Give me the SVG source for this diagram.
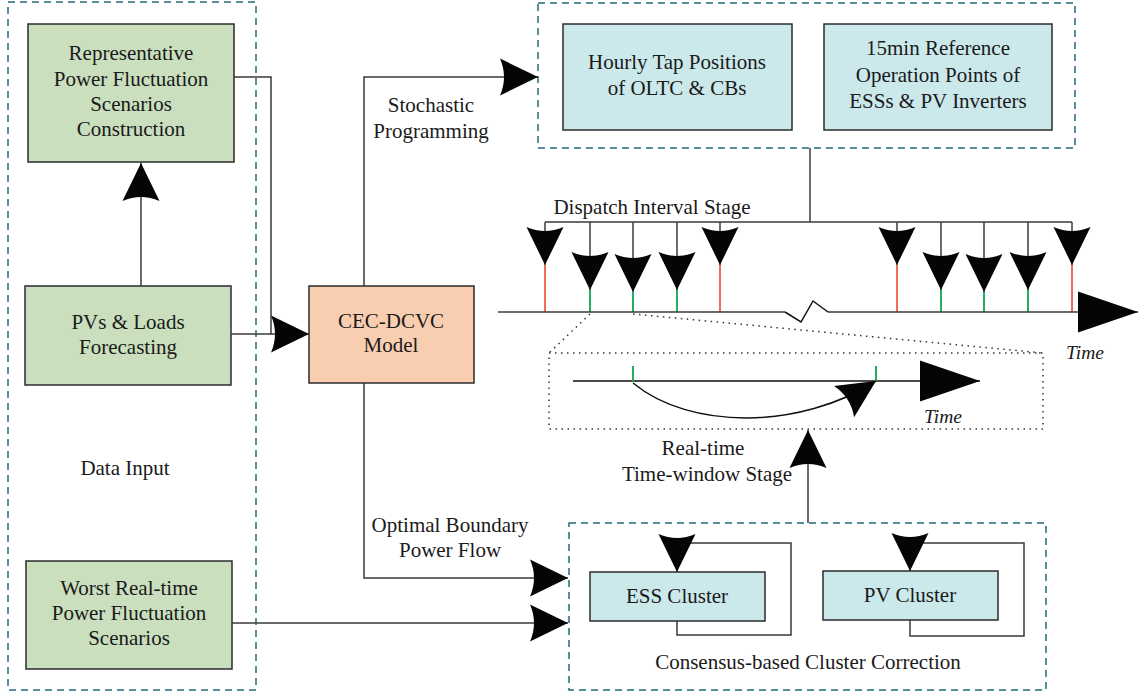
<svg xmlns="http://www.w3.org/2000/svg" width="1138" height="695" viewBox="0 0 1138 695">
  <style>
    .t { font-family: "Liberation Serif", "Times New Roman", serif; font-size: 21px; fill: #1a1a1a; text-anchor: middle; }
    .ti { font-family: "Liberation Serif", "Times New Roman", serif; font-size: 19.5px; font-style: italic; fill: #1a1a1a; text-anchor: middle; }
    .green { fill: #c9dfbd; stroke: #2b2b2b; stroke-width: 1.5; }
    .blue { fill: #cbe8eb; stroke: #2b2b2b; stroke-width: 1.5; }
    .peach { fill: #f9cdb0; stroke: #2b2b2b; stroke-width: 1.5; }
    .frame { fill: none; stroke: #1f6b75; stroke-width: 1.5; stroke-dasharray: 7 5; }
    .ln { fill: none; stroke: #3a3a3a; stroke-width: 1.5; }
    .arr { marker-end: url(#head); }
    .red { stroke: #ef6e55; stroke-width: 2; }
    .grn { stroke: #22b060; stroke-width: 2; }
    .dot { fill: none; stroke: #333; stroke-width: 1.5; stroke-dasharray: 1.5 4.5; }
  </style>
  <defs>
    <marker id="head" viewBox="-40 -20 40 40" markerWidth="40" markerHeight="40" refX="0" refY="0" orient="auto" markerUnits="userSpaceOnUse">
      <path d="M0,0 L-38,-18.5 Q-30,0 -38,18.5 Z" fill="#050505"/>
    </marker>
    <marker id="bigHead" viewBox="-64 -22 64 44" markerWidth="64" markerHeight="44" refX="0" refY="0" orient="auto" markerUnits="userSpaceOnUse">
      <path d="M0,0 L-60,-20.5 L-60,20.5 Z" fill="#050505"/>
    </marker>
  </defs>

  <rect width="1138" height="695" fill="#ffffff"/>

  <!-- dashed stage frames -->
  <g id="data-input">
    <rect class="frame" x="8" y="2" width="248" height="688"/>
    <text class="t" x="125" y="475">Data Input</text>
  </g>
  <g id="day-ahead-output">
    <rect class="frame" x="538" y="3" width="537" height="145"/>
  </g>
  <g id="cluster-correction">
    <rect class="frame" x="569" y="523" width="477" height="167"/>
    <text class="t" x="808" y="669">Consensus-based Cluster Correction</text>
  </g>

  <!-- nodes -->
  <g id="representative-scenarios">
    <rect class="green" x="28" y="24" width="206" height="138"/>
    <text class="t" x="131" y="60">Representative</text>
    <text class="t" x="131" y="86">Power Fluctuation</text>
    <text class="t" x="131" y="111">Scenarios</text>
    <text class="t" x="131" y="136">Construction</text>
  </g>
  <g id="forecasting">
    <rect class="green" x="25" y="286" width="206" height="99"/>
    <text class="t" x="128" y="329">PVs &amp; Loads</text>
    <text class="t" x="128" y="354">Forecasting</text>
  </g>
  <g id="worst-scenarios">
    <rect class="green" x="26" y="561" width="206" height="108"/>
    <text class="t" x="129" y="595">Worst Real-time</text>
    <text class="t" x="129" y="620">Power Fluctuation</text>
    <text class="t" x="129" y="645">Scenarios</text>
  </g>
  <g id="cec-dcvc-model">
    <rect class="peach" x="309" y="286" width="165" height="97"/>
    <text class="t" x="391" y="328">CEC-DCVC</text>
    <text class="t" x="391" y="352">Model</text>
  </g>
  <g id="hourly-tap">
    <rect class="blue" x="563" y="24" width="229" height="106"/>
    <text class="t" x="677" y="69">Hourly Tap Positions</text>
    <text class="t" x="677" y="95">of OLTC &amp; CBs</text>
  </g>
  <g id="reference-points">
    <rect class="blue" x="824" y="24" width="228" height="106"/>
    <text class="t" x="938" y="55">15min Reference</text>
    <text class="t" x="938" y="82">Operation Points of</text>
    <text class="t" x="938" y="108">ESSs &amp; PV Inverters</text>
  </g>
  <g id="ess-cluster">
    <rect class="blue" x="590" y="572" width="175" height="49"/>
    <text class="t" x="677" y="603">ESS Cluster</text>
  </g>
  <g id="pv-cluster">
    <rect class="blue" x="823" y="571" width="175" height="49"/>
    <text class="t" x="910" y="602">PV Cluster</text>
  </g>

  <!-- connectors -->
  <g id="connectors">
    <line class="ln arr" x1="141" y1="286" x2="141" y2="163"/>
    <polyline class="ln arr" points="234,77 271,77 271,334 309,334"/>
    <line class="ln" x1="231" y1="334" x2="271" y2="334"/>
    <polyline class="ln arr" points="364,286 364,77 538,77"/>
    <polyline class="ln arr" points="364,383 364,578 568,578"/>
    <line class="ln arr" x1="232" y1="623" x2="568" y2="623"/>
    <line class="ln arr" x1="808" y1="523" x2="808" y2="430"/>

    <!-- cluster feedback loops -->
    <polyline class="ln arr" points="677,621 677,635 791,635 791,543 677,543 677,572"/>
    <polyline class="ln arr" points="910,620 910,636 1024,636 1024,543 910,543 910,571"/>

    <!-- dispatch interval branches -->
    <line class="ln" x1="810" y1="148" x2="810" y2="222"/>
    <line class="ln" x1="545" y1="222" x2="1072" y2="222"/>
    <line class="ln arr" x1="545" y1="222" x2="545" y2="265"/>
    <line class="ln arr" x1="720" y1="222" x2="720" y2="265"/>
    <line class="ln arr" x1="897" y1="222" x2="897" y2="265"/>
    <line class="ln arr" x1="1072" y1="222" x2="1072" y2="265"/>
    <line class="ln arr" x1="590" y1="222" x2="590" y2="290"/>
    <line class="ln arr" x1="633" y1="222" x2="633" y2="292"/>
    <line class="ln arr" x1="677" y1="222" x2="677" y2="290"/>
    <line class="ln arr" x1="941" y1="222" x2="941" y2="290"/>
    <line class="ln arr" x1="984" y1="222" x2="984" y2="292"/>
    <line class="ln arr" x1="1028" y1="222" x2="1028" y2="290"/>
    <g class="red">
      <line x1="545" y1="265" x2="545" y2="312"/>
      <line x1="720" y1="265" x2="720" y2="312"/>
      <line x1="897" y1="265" x2="897" y2="312"/>
      <line x1="1072" y1="265" x2="1072" y2="312"/>
    </g>
    <g class="grn">
      <line x1="590" y1="290" x2="590" y2="312"/>
      <line x1="633" y1="292" x2="633" y2="312"/>
      <line x1="677" y1="290" x2="677" y2="312"/>
      <line x1="941" y1="290" x2="941" y2="312"/>
      <line x1="984" y1="292" x2="984" y2="312"/>
      <line x1="1028" y1="290" x2="1028" y2="312"/>
    </g>

    <!-- dispatch time axis with break -->
    <polyline class="ln" points="498,312 785,312" />
    <polyline fill="none" stroke="#111" stroke-width="1.5" points="785,312 801,322 813,301 828,312"/>
    <line class="ln" x1="828" y1="312" x2="1138" y2="312" marker-end="url(#bigHead)"/>

    <!-- magnified time window -->
    <line class="dot" x1="590" y1="314" x2="549" y2="353"/>
    <line class="dot" x1="633" y1="314" x2="1043" y2="353"/>
    <rect class="dot" x="549" y="353" width="494" height="76"/>
    <line stroke="#111" stroke-width="1.5" x1="573" y1="381" x2="980" y2="381" marker-end="url(#bigHead)"/>
    <line class="grn" x1="633" y1="366" x2="633" y2="381"/>
    <line class="grn" x1="876" y1="366" x2="876" y2="381"/>
    <path class="arr" fill="none" stroke="#111" stroke-width="1.5" d="M633,383 C690,430 800,430 876,381"/>
  </g>

  <!-- labels -->
  <g id="labels">
    <text class="t" x="431" y="112">Stochastic</text>
    <text class="t" x="431" y="138">Programming</text>
    <text class="t" x="652" y="214">Dispatch Interval Stage</text>
    <text class="ti" x="1085" y="359">Time</text>
    <text class="ti" x="943" y="423">Time</text>
    <text class="t" x="703" y="455">Real-time</text>
    <text class="t" x="707" y="481">Time-window Stage</text>
    <text class="t" x="450" y="532">Optimal Boundary</text>
    <text class="t" x="450" y="557">Power Flow</text>
  </g>
</svg>
